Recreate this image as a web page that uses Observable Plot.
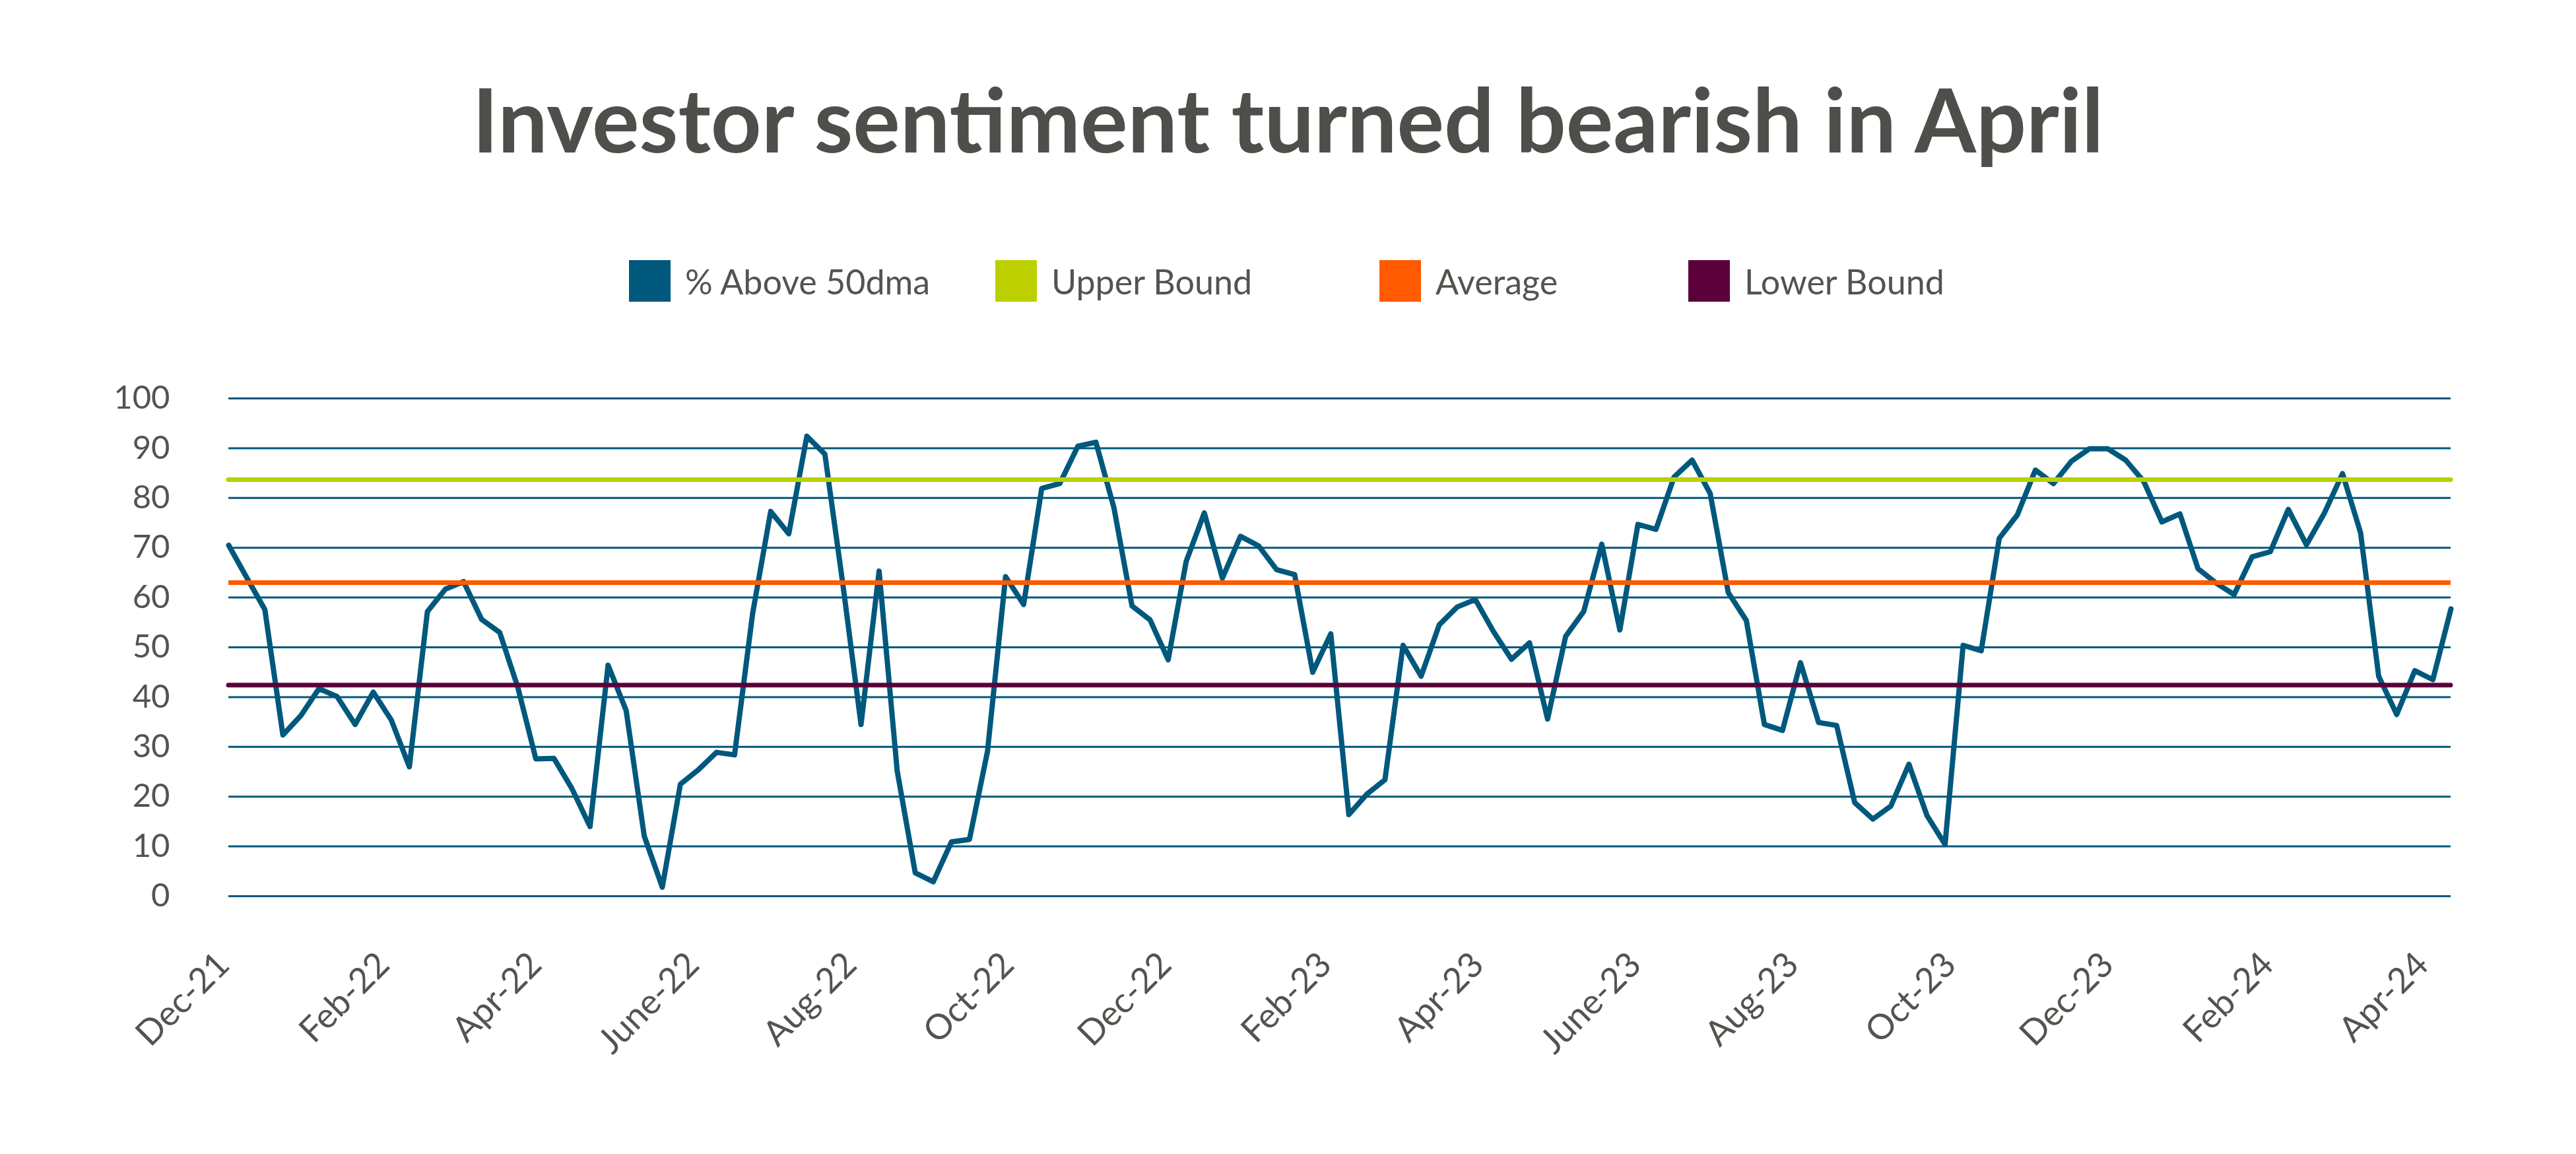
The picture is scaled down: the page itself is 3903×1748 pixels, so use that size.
<!DOCTYPE html>
<html>
<head>
<meta charset="utf-8">
<script src="https://cdn.jsdelivr.net/npm/d3@7"></script>
<script src="https://cdn.jsdelivr.net/npm/@observablehq/plot@0.6"></script>
<style>
  html, body { margin: 0; padding: 0; background: #fff; }
  body { width: 3903px; height: 1748px; overflow: hidden; font-family: Lato, "Noto Sans", sans-serif; color: #54534f; }
  #header { position: relative; width: 3903px; height: 520px; }
  #title { position: absolute; left: 0; width: 3903px; top: 113px; text-align: center; font-size: 134px; font-weight: 700; color: #4f4e4a; letter-spacing: 0px; line-height: 1; }
  .item { position: absolute; top: 394px; height: 63px; display: flex; align-items: center; font-size: 52px; color: #54534f; }
  .sw { width: 63px; height: 63px; margin-right: 22px; }
</style>
</head>
<body>
<div id="header">
  <div id="title">Investor sentiment turned bearish in April</div>
</div>
<div id="chart"></div>
<script>
// Series: % of stocks above 50-day moving average (weekly)
const pctAbove50dma = [
  70.5, 64.0, 57.6, 32.4, 36.3, 41.7, 40.1, 34.5, 41.0, 35.4,
  26.0, 57.2, 61.7, 63.2, 55.6, 53.0, 42.0, 27.6, 27.7, 21.6,
  14.0, 46.4, 37.3, 12.1, 1.8, 22.5, 25.4, 28.9, 28.4, 56.8,
  77.3, 72.8, 92.4, 88.8, 62.5, 34.5, 65.3, 25.2, 4.7, 2.9,
  10.9, 11.4, 29.1, 64.2, 58.6, 81.9, 82.9, 90.4, 91.2, 78.0,
  58.3, 55.5, 47.5, 67.3, 77.0, 63.9, 72.3, 70.4, 65.6, 64.6,
  45.0, 52.7, 16.4, 20.5, 23.4, 50.4, 44.2, 54.5, 58.1, 59.6,
  53.2, 47.6, 50.9, 35.6, 52.2, 57.2, 70.7, 53.5, 74.7, 73.7,
  84.2, 87.6, 80.9, 61.0, 55.4, 34.5, 33.3, 46.9, 34.9, 34.3,
  18.8, 15.5, 18.1, 26.5, 16.2, 10.4, 50.4, 49.3, 71.9, 76.6,
  85.6, 82.9, 87.4, 89.9, 89.9, 87.6, 83.3, 75.2, 76.8, 65.8,
  62.9, 60.6, 68.2, 69.2, 77.7, 70.6, 77.0, 84.9, 73.0, 44.2,
  36.5, 45.3, 43.5, 57.7
];
const upperBound = 83.7;
const average = 63.0;
const lowerBound = 42.4;

const seriesNames = ["% Above 50dma", "Upper Bound", "Average", "Lower Bound"];
const seriesColors = ["#00587c", "#bcd000", "#ff5a00", "#5c003b"];

const yTicks = [0, 10, 20, 30, 40, 50, 60, 70, 80, 90, 100];
const xTickLabels = ["Dec-21","Feb-22","Apr-22","June-22","Aug-22","Oct-22","Dec-22","Feb-23","Apr-23","June-23","Aug-23","Oct-23","Dec-23","Feb-24","Apr-24"];

// weekly observation dates (Fridays)
const startDate = new Date(Date.UTC(2021, 11, 3));
const dates = pctAbove50dma.map((_, i) => d3.utcDay.offset(startDate, 7 * i));
const data = pctAbove50dma.map((v, i) => ({date: dates[i], value: v}));

const xTickDates = d3.utcMonth.range(new Date(Date.UTC(2021, 11, 1)), new Date(Date.UTC(2024, 3, 2)), 2);
const labelOf = new Map(xTickDates.map((d, i) => [+d, xTickLabels[i]]));

// legend
const header = document.getElementById("header");
const legendLeft = [953, 1508, 2090, 2558];
seriesNames.forEach((name, i) => {
  const it = document.createElement("div");
  it.className = "item";
  it.style.left = legendLeft[i] + "px";
  it.innerHTML = `<div class="sw" style="background:${seriesColors[i]}"></div><span>${name}</span>`;
  header.appendChild(it);
});

const chart = Plot.plot({
  width: 3903,
  height: 1228,
  marginLeft: 346,
  marginRight: 190,
  marginTop: 83,
  marginBottom: 391,
  style: {fontFamily: "Lato, 'Noto Sans', sans-serif", fontSize: "48px", color: "#54534f", background: "#fff"},
  x: {type: "utc", domain: [dates[0], dates[dates.length - 1]]},
  y: {domain: [0, 100]},
  marks: [
    Plot.ruleY(yTicks, {stroke: "#00587c", strokeWidth: 3}),
    Plot.axisY(yTicks, {tickSize: 0, tickPadding: 89, fontSize: 49, fill: "#54534f", label: null}),
    Plot.axisX(xTickDates, {tickSize: 0, tickPadding: 95, tickRotate: -45, fontSize: 53, fill: "#54534f", label: null, tickFormat: d => labelOf.get(+d)}),
    Plot.lineY(data, {x: "date", y: "value", stroke: seriesColors[0], strokeWidth: 8, strokeLinejoin: "round", strokeLinecap: "round"}),
    Plot.ruleY([upperBound], {stroke: seriesColors[1], strokeWidth: 7, strokeLinecap: "round"}),
    Plot.ruleY([average], {stroke: seriesColors[2], strokeWidth: 7}),
    Plot.ruleY([lowerBound], {stroke: seriesColors[3], strokeWidth: 7, strokeLinecap: "round"})
  ]
});
document.getElementById("chart").appendChild(chart);
</script>
</body>
</html>
